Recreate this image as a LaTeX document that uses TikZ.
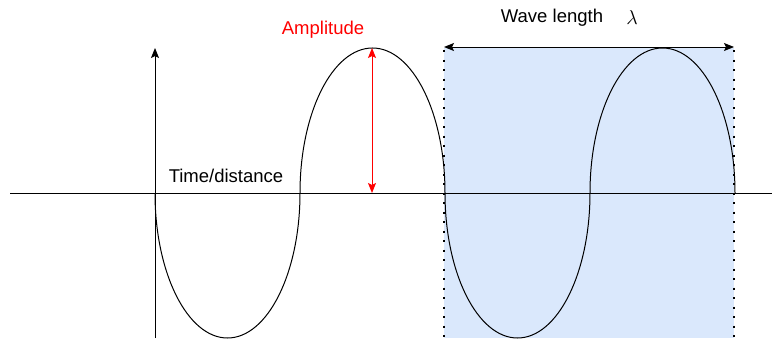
\RequirePackage{fix-cm}
\documentclass[tikz,border=0pt]{standalone}
\usepackage{fontspec}
\setmainfont{Liberation Sans}
\usetikzlibrary{arrows.meta}
\definecolor{bandblue}{HTML}{DAE8FC}
\definecolor{ampred}{HTML}{FF0000}
\tikzset{
  lbl/.style={inner sep=0pt, font=\fontsize{18.5}{22}\selectfont},
  wave/.style={line width=1pt, black},
  axisline/.style={line width=1pt, black},
  tip/.style={-{Stealth[length=10pt,width=8pt,inset=2pt]}},
  dottededge/.style={line width=2.2pt, dash pattern=on 2.2pt off 7.3pt, black},
}
\begin{document}
\begin{tikzpicture}[x=1pt,y=-1pt]
\useasboundingbox (0,0) rectangle (772,340);
% band
\fill[bandblue] (444,48) rectangle (734,338);
% axes
\coordinate (xl) at (10,193);
\coordinate (xr) at (772,193);
\coordinate (yb) at (155,338);
\coordinate (yt) at (155,48);
\draw[axisline] (xl) -- (xr);
\draw[axisline, tip] (yb) -- (yt);
% wave
\coordinate (w0) at (155,193);
\draw[wave] (w0)
  arc[start angle=180, end angle=0, x radius=72.5, y radius=145]
  arc[start angle=180, end angle=360, x radius=72.5, y radius=145]
  arc[start angle=180, end angle=0, x radius=72.5, y radius=145]
  arc[start angle=180, end angle=360, x radius=72.5, y radius=145];
% dotted edges
\coordinate (dlt) at (444,50);
\coordinate (dlb) at (444,338);
\coordinate (drt) at (734,50);
\coordinate (drb) at (734,338);
\draw[dottededge] (dlt) -- (dlb);
\draw[dottededge] (drt) -- (drb);
% wave length arrow
\coordinate (wl) at (444,47);
\coordinate (wr) at (734,47);
\draw[line width=1pt, {Stealth[length=10pt,width=8pt,inset=2pt]}-{Stealth[length=10pt,width=8pt,inset=2pt]}] (wl) -- (wr);
% amplitude arrow
\coordinate (at) at (372,48);
\coordinate (ab) at (372,193);
\draw[line width=1pt, ampred, {Stealth[length=10pt,width=8pt,inset=2pt]}-{Stealth[length=10pt,width=8pt,inset=2pt]}] (ab) -- (at);
% labels
\node[lbl] (time) at (226,176) {Time/distance};
\node[lbl, text=ampred] (amp) at (323,30) {Amplitude};
\node[lbl] (wlen) at (552,18) {Wave length};
\node[inner sep=0pt, font=\fontsize{20}{24}\selectfont] (lam) at (632,18) {$\lambda$};
\end{tikzpicture}
\end{document}
